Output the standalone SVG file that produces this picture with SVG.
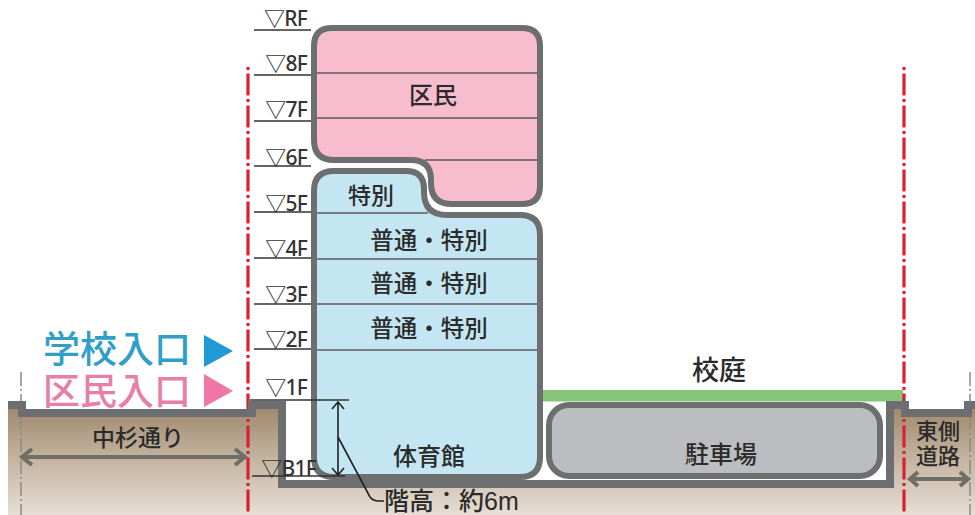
<svg xmlns="http://www.w3.org/2000/svg" width="975" height="515" viewBox="0 0 975 515">
<style>
text{font-family:"Liberation Sans","Noto Sans CJK JP",sans-serif;fill:#2b2b2b;font-weight:500}
.c{text-anchor:middle}
.lv{font-family:"Noto Sans","Noto Sans CJK JP",sans-serif;font-size:21px;letter-spacing:-0.8px;text-anchor:end;fill:#333;font-weight:500}
.wall{fill:none;stroke:#6d6e70;stroke-width:8}
.bld{stroke:#6d6e70;stroke-width:6}
.fl{stroke:#5f5a60;stroke-width:1.4}
.lvl{stroke:#333;stroke-width:1.3}
.red{stroke:#d9202e;stroke-width:3.2;stroke-dasharray:3 3.500 22 3.500;fill:none}
.cen{stroke:#8a8a84;stroke-width:1.5;stroke-dasharray:14 3 2 3;fill:none}
.road{stroke:#6f6f68;stroke-width:4;fill:none}
.dim{stroke:#222;stroke-width:1.6;fill:none}
</style>
<defs>
<linearGradient id="earth" x1="0" y1="409" x2="0" y2="515" gradientUnits="userSpaceOnUse">
<stop offset="0" stop-color="#a18a6f"/><stop offset="0.5" stop-color="#c6b6a3"/><stop offset="1" stop-color="#e6ded4"/>
</linearGradient>
</defs>
<rect width="975" height="515" fill="#fff"/>
<g id="ground">
<path d="M8 409H22V413H250V405H282V484H890V405H905V413H968V405H975V515H8Z" fill="url(#earth)"/>
<rect x="286" y="400" width="600" height="80" fill="#fff"/>
<rect x="543" y="390" width="360" height="11.500" fill="#86c67a"/>
</g>
<g id="center-lines">
<path class="cen" d="M21 372V515"/>
<path class="cen" d="M970 372V515"/>
</g>
<g id="boundary-lines">
<path class="red" d="M248 67V515"/>
<path class="red" d="M904 67V515"/>
</g>
<path class="wall" d="M8 405H22V413H252V405H282V484H890V405H905V413H968V405H975"/>
<g id="node-kumin">
<path class="bld" fill="#f7bccd" d="M332 28H522Q540 28 540 46V186Q540 204 522 204H452Q431 204 431 183V180Q431 160 411 160H334Q314 160 314 140V46Q314 28 332 28Z"/>
<path class="fl" d="M317 73H537M317 118H537M425 160H537"/>
<text class="c" x="433" y="104" font-size="24">区民</text>
</g>
<g id="node-school">
<path class="bld" fill="#c3e6f2" d="M334 171H406Q424 171 424 189V192Q424 215 447 215H520Q540 215 540 235V457Q540 477 520 477H334Q314 477 314 457V191Q314 171 334 171Z"/>
<path class="fl" d="M317 213H428M317 259H537M317 304H537M317 350H537"/>
<text class="c" x="371" y="204" font-size="23">特別</text>
<text class="c" x="429" y="249" font-size="23.500">普通・特別</text>
<text class="c" x="429" y="292" font-size="23.500">普通・特別</text>
<text class="c" x="429" y="337" font-size="23.500">普通・特別</text>
<text class="c" x="429" y="465" font-size="24">体育館</text>
</g>
<g id="node-parking">
<rect class="bld" x="549" y="405" width="331" height="71" rx="20" fill="#bcbdc1"/>
<text class="c" x="721" y="463" font-size="24">駐車場</text>
</g>
<g id="connectors">
<path class="lvl" d="M254 30H311M254 75H311M254 121H311M254 166H311M254 212H311M254 258H311M254 304H311M254 349H311M250 400H349M252 476H345"/>
<path class="road" d="M21 457H246M32 449L22 457L32 465M235 449L245 457L235 465"/>
<path class="road" d="M909 479H969M918 472L910 479L918 486M960 472L968 479L960 486"/>
<path class="dim" d="M338 402V475M332 409L338 402L344 409M332 468L338 475L344 468"/>
<path class="dim" d="M338 437L370 497Q373 501 379 501H384"/>
</g>
<g id="labels">
<text class="lv" x="307" y="26">▽RF</text>
<text class="lv" x="307" y="71">▽8F</text>
<text class="lv" x="307" y="117">▽7F</text>
<text class="lv" x="307" y="165">▽6F</text>
<text class="lv" x="307" y="211">▽5F</text>
<text class="lv" x="307" y="256">▽4F</text>
<text class="lv" x="307" y="302">▽3F</text>
<text class="lv" x="307" y="347">▽2F</text>
<text class="lv" x="307" y="395">▽1F</text>
<text class="lv" x="316" y="476">▽B1F</text>
<text class="c" x="719" y="380" font-size="27">校庭</text>
<text class="c" x="138" y="446" font-size="23">中杉通り</text>
<text class="c" x="938" y="439" font-size="22">東側</text>
<text class="c" x="938" y="464" font-size="22">道路</text>
<text x="384" y="510" font-size="25">階高：約6m</text>
<text x="43" y="363" font-size="37" style="fill:#2f9fc8">学校入口</text>
<text x="43" y="405" font-size="37" style="fill:#e77fa8">区民入口</text>
<path d="M204 335L233 351L204 367Z" fill="#1f9ad6"/>
<path d="M204 374L233 391L204 407Z" fill="#ee77a6"/>
</g>
</svg>
